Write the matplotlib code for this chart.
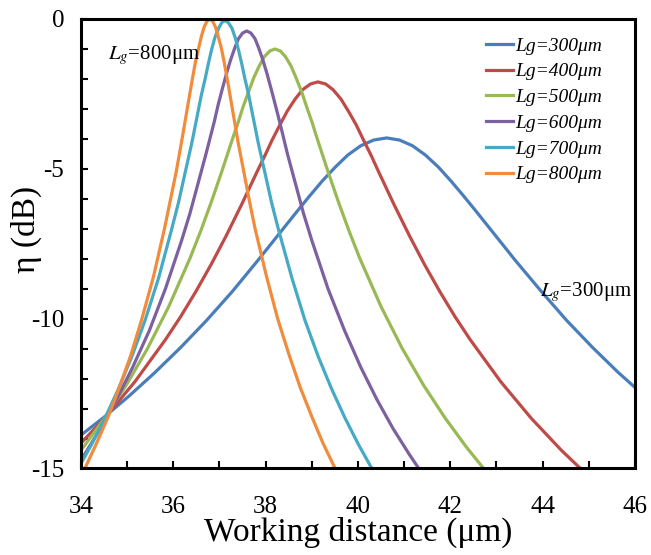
import matplotlib
matplotlib.use('Agg')
import matplotlib.pyplot as plt
from matplotlib.ticker import MultipleLocator

plt.rcParams['font.family'] = ['Liberation Serif', 'DejaVu Serif']
plt.rcParams['mathtext.fontset'] = 'stix'
plt.rcParams['axes.unicode_minus'] = False

# values (working distance in um, eta in dB)
x300 = [33.93, 34.49, 35.05, 35.60, 36.16, 36.72, 37.28, 37.83, 38.39, 38.67,
        38.95, 39.23, 39.51, 39.78, 40.06, 40.34, 40.62, 40.90, 41.18, 41.46,
        41.74, 42.01, 42.29, 42.57, 42.85, 43.41, 43.97, 44.52, 45.08, 45.64, 46.20]
y300 = [-13.97, -13.30, -12.57, -11.80, -10.96, -10.06, -9.09, -8.06, -6.98, -6.44,
        -5.91, -5.40, -4.94, -4.54, -4.23, -4.04, -3.97, -4.04, -4.23, -4.54,
        -4.94, -5.40, -5.91, -6.44, -6.98, -8.06, -9.09, -10.06, -10.96, -11.80, -12.57]

x400 = [33.85, 34.51, 35.17, 35.83, 36.16, 36.49, 36.82, 37.15, 37.48, 37.81,
        37.98, 38.14, 38.31, 38.47, 38.64, 38.80, 38.97, 39.13, 39.30, 39.46,
        39.63, 39.79, 39.96, 40.12, 40.29, 40.45, 40.78, 41.11, 41.44, 41.77,
        42.10, 42.43, 43.09, 43.75, 44.41, 45.07]
y400 = [-14.40, -13.32, -12.10, -10.70, -9.93, -9.09, -8.19, -7.22, -6.19, -5.11,
        -4.57, -4.04, -3.53, -3.07, -2.67, -2.36, -2.17, -2.10, -2.17, -2.36,
        -2.67, -3.07, -3.53, -4.04, -4.57, -5.11, -6.19, -7.22, -8.19, -9.09,
        -9.93, -10.70, -12.10, -13.32, -14.40, -15.37]

x500 = [33.60, 34.06, 34.52, 34.98, 35.44, 35.90, 36.36, 36.59, 36.82, 37.05,
        37.28, 37.40, 37.51, 37.63, 37.74, 37.86, 37.97, 38.09, 38.20, 38.32,
        38.43, 38.55, 38.66, 38.78, 38.89, 39.01, 39.12, 39.35, 39.58, 39.81,
        40.04, 40.50, 40.96, 41.42, 41.88, 42.34, 42.80]
y500 = [-15.15, -14.27, -13.30, -12.22, -11.00, -9.60, -7.99, -7.09, -6.12, -5.09,
        -4.01, -3.47, -2.94, -2.43, -1.97, -1.57, -1.26, -1.07, -1.00, -1.07,
        -1.26, -1.57, -1.97, -2.43, -2.94, -3.47, -4.01, -5.09, -6.12, -7.09,
        -7.99, -9.60, -11.00, -12.22, -13.30, -14.27, -15.15]

x600 = [33.71, 34.07, 34.42, 34.77, 35.12, 35.48, 35.83, 36.18, 36.36, 36.53,
        36.71, 36.89, 36.97, 37.06, 37.15, 37.24, 37.33, 37.41, 37.50, 37.59,
        37.68, 37.77, 37.85, 37.94, 38.03, 38.12, 38.21, 38.30, 38.47, 38.65,
        38.82, 39.00, 39.35, 39.71, 40.06, 40.41, 40.76, 41.12, 41.47]
y600 = [-15.35, -14.55, -13.67, -12.70, -11.62, -10.40, -9.00, -7.39, -6.49, -5.52,
        -4.49, -3.41, -2.87, -2.34, -1.83, -1.37, -0.97, -0.66, -0.47, -0.40,
        -0.47, -0.66, -0.97, -1.37, -1.83, -2.34, -2.87, -3.41, -4.49, -5.52,
        -6.49, -7.39, -9.00, -10.40, -11.62, -12.70, -13.67, -14.55, -15.35]

x700 = [33.94, 34.23, 34.52, 34.81, 35.10, 35.39, 35.68, 35.96, 36.11, 36.25,
        36.40, 36.54, 36.61, 36.69, 36.76, 36.83, 36.90, 36.98, 37.05, 37.12,
        37.19, 37.27, 37.34, 37.41, 37.48, 37.55, 37.63, 37.70, 37.84, 37.99,
        38.13, 38.28, 38.57, 38.85, 39.14, 39.43, 39.72, 40.01, 40.30, 40.59]
y700 = [-15.00, -14.20, -13.32, -12.35, -11.27, -10.05, -8.65, -7.04, -6.14, -5.17,
        -4.14, -3.06, -2.52, -1.99, -1.48, -1.02, -0.62, -0.31, -0.12, -0.05,
        -0.12, -0.31, -0.62, -1.02, -1.48, -1.99, -2.52, -3.06, -4.14, -5.17,
        -6.14, -7.04, -8.65, -10.05, -11.27, -12.35, -13.32, -14.20, -15.00, -15.73]

x800 = [33.85, 34.10, 34.34, 34.59, 34.83, 35.08, 35.32, 35.57, 35.81, 35.93,
        36.06, 36.18, 36.30, 36.36, 36.42, 36.48, 36.55, 36.61, 36.67, 36.73,
        36.79, 36.85, 36.91, 36.97, 37.04, 37.10, 37.16, 37.22, 37.28, 37.40,
        37.53, 37.65, 37.77, 38.02, 38.26, 38.51, 38.75, 39.00, 39.24, 39.49, 39.73]
y800 = [-15.68, -14.95, -14.15, -13.27, -12.30, -11.22, -10.00, -8.60, -6.99, -6.09,
        -5.12, -4.09, -3.01, -2.47, -1.94, -1.43, -0.97, -0.57, -0.26, -0.07,
        0.0, -0.07, -0.26, -0.57, -0.97, -1.43, -1.94, -2.47, -3.01, -4.09,
        -5.12, -6.09, -6.99, -8.60, -10.00, -11.22, -12.30, -13.27, -14.15, -14.95, -15.68]

labels = ['Lg=300μm', 'Lg=400μm', 'Lg=500μm', 'Lg=600μm', 'Lg=700μm', 'Lg=800μm']
colors = ['#4A7EBB', '#BE4B48', '#98B954', '#7D60A0', '#46AAC5', '#F08C3C']

fig = plt.figure(figsize=(6.51, 5.55), dpi=100)
ax = fig.add_axes([0.1244, 0.1559, 0.8510, 0.8099])

series = [(x300, y300), (x400, y400), (x500, y500), (x600, y600), (x700, y700), (x800, y800)]
for (xs, ys), lab, c in zip(series, labels, colors):
    ax.plot(xs, ys, color=c, lw=2.3, label=lab, solid_joinstyle='round')

ax.set_xlim(34, 46)
ax.set_ylim(-15, 0)
ax.xaxis.set_major_locator(MultipleLocator(2))
ax.xaxis.set_minor_locator(MultipleLocator(1))
ax.yaxis.set_major_locator(MultipleLocator(5))
ax.yaxis.set_minor_locator(MultipleLocator(1))
ax.tick_params(which='both', direction='in', length=5, width=1.5, labelsize=18)
ax.tick_params(axis='x', which='both', pad=20)
ax.tick_params(axis='y', which='both', pad=12)
for s in ax.spines.values():
    s.set_linewidth(2.2)

ax.set_xlabel('Working distance (μm)', fontsize=24)
ax.set_ylabel('η (dB)', fontsize=24)
ax.xaxis.set_label_coords(0.5, -0.108)
ax.yaxis.set_label_coords(-0.070, 0.531)

leg = ax.legend(loc='upper right', bbox_to_anchor=(0.973, 0.999), frameon=False,
                prop={'style': 'italic', 'size': 14}, handlelength=1.4,
                handletextpad=0.15, labelspacing=0.42)

ax.text(34.58, -1.2, r'$L_g$=800μm', fontsize=15, va='center')
ax.text(43.94, -9.11, r'$L_g$=300μm', fontsize=15, va='center')

fig.savefig('out.png', dpi=100)
